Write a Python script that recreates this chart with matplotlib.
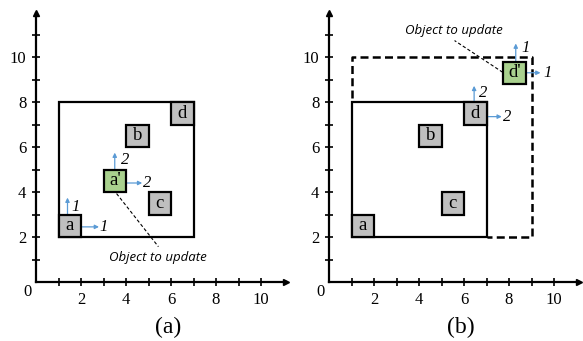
import matplotlib
matplotlib.use("Agg")
import matplotlib.pyplot as plt
from matplotlib.patches import Rectangle

# ---------------- data ----------------
major_ticks_x = [2, 4, 6, 8, 10]
minor_ticks_x = [1, 3, 5, 7, 9]
major_ticks_y = [2, 4, 6, 8, 10]
minor_ticks_y = [1, 3, 5, 7, 9, 11]

# panel (a)
boxes_a_labels = ['a', 'b', 'c', 'd', "a'"]
boxes_a_x = [1, 4, 5, 6, 3]
boxes_a_y = [2, 6, 3, 7, 4]
boxes_a_new = [False, False, False, False, True]
rect_a = [1, 2, 7, 8]  # x0, y0, x1, y1
arrows_a_start = [(1.4, 3), (2, 2.45), (3.5, 5), (4, 4.4)]
arrows_a_end = [(1.4, 3.75), (2.8, 2.45), (3.5, 5.75), (4.72, 4.4)]
arrows_a_labels = ['1', '1', '2', '2']
arrows_a_label_pos = [(1.78, 3.35), (3.0, 2.45), (3.95, 5.42), (4.95, 4.4)]
leader_a = [(3.58, 3.93), (5.44, 1.57)]
note_a_pos = (5.4, 1.07)

# panel (b)
boxes_b_labels = ['a', 'b', 'c', 'd', "d'"]
boxes_b_x = [1, 4, 5, 6, 7.75]
boxes_b_y = [2, 6, 3, 7, 8.8]
boxes_b_new = [False, False, False, False, True]
rect_b = [1, 2, 7, 8]
dashed_b_x = [1, 1, 9, 9, 7]
dashed_b_y = [8.2, 10, 10, 2, 2]
arrows_b_start = [(6.45, 8), (7, 7.35), (8.3, 9.8), (8.75, 9.3)]
arrows_b_end = [(6.45, 8.72), (7.68, 7.35), (8.3, 10.6), (9.4, 9.3)]
arrows_b_labels = ['2', '2', '1', '1']
arrows_b_label_pos = [(6.87, 8.42), (7.9, 7.35), (8.72, 10.42), (9.72, 9.3)]
leader_b = [(7.72, 9.32), (5.58, 10.73)]
note_b_pos = (5.53, 11.18)

note_text = "Object to update"
panel_labels = ['(a)', '(b)']

# ---------------- style ----------------
SERIF = 'Liberation Serif'
GRAY = '#bfbfbf'
GREEN = '#a9d18e'
BLUE = '#5b9bd5'

W, H = 583, 341
fig = plt.figure(figsize=(W / 100, H / 100), dpi=100)

scale = 22.5  # px per unit
xlim = (-36 / scale, (290 - 36) / scale)
ylim = ((282 - 341) / scale, 282 / scale)


def setup_axes(left_px):
    ax = fig.add_axes([left_px / W, 0, 290 / W, 1])
    ax.set_xlim(*xlim)
    ax.set_ylim(*ylim)
    for s in ['top', 'right']:
        ax.spines[s].set_visible(False)
    ax.spines['left'].set_position(('data', 0))
    ax.spines['bottom'].set_position(('data', 0))
    ax.spines['left'].set_bounds(0, 11.95)
    ax.spines['bottom'].set_bounds(0, 11.1)
    for s in ['left', 'bottom']:
        ax.spines[s].set_linewidth(1.6)
    ax.plot([11.1], [0], marker='>', color='black', markersize=5, clip_on=False)
    ax.plot([0], [11.95], marker='^', color='black', markersize=5, clip_on=False)
    ax.set_xticks(major_ticks_x)
    ax.set_xticks(minor_ticks_x, minor=True)
    ax.set_yticks(major_ticks_y)
    ax.set_yticks(minor_ticks_y, minor=True)
    ax.tick_params(which='both', direction='inout', length=6, width=1.2)
    ax.tick_params(axis='x', which='major', pad=4)
    ax.tick_params(axis='y', which='major', pad=4)
    for lab in ax.get_xticklabels() + ax.get_yticklabels():
        lab.set_fontfamily(SERIF)
        lab.set_fontsize(12)
    ax.text(-0.36, -0.46, '0', family=SERIF, fontsize=12, ha='center', va='center')
    ax.patch.set_visible(False)
    return ax


def draw_panel(ax, labels, xs, ys, new, starts, ends, alabels, alpos, leader, note_pos, plabel):
    for lab, x, y, n in zip(labels, xs, ys, new):
        ax.add_patch(Rectangle((x, y), 1, 1, facecolor=GREEN if n else GRAY,
                               edgecolor='black', linewidth=1.6, zorder=3))
        ax.text(x + 0.5, y + 0.5, lab, family=SERIF, fontsize=13.5,
                ha='center', va='center', zorder=4)
    for s, e, t, p in zip(starts, ends, alabels, alpos):
        ax.annotate('', xy=e, xytext=s,
                    arrowprops=dict(arrowstyle='-|>', color=BLUE, lw=0.9,
                                    mutation_scale=6, shrinkA=0, shrinkB=0),
                    zorder=2)
        ax.text(p[0], p[1], t, family=SERIF, style='italic', fontsize=12,
                ha='center', va='center')
    ax.plot([leader[0][0], leader[1][0]], [leader[0][1], leader[1][1]],
            color='black', lw=0.8, linestyle=(0, (3, 2)), zorder=5)
    ax.text(note_pos[0], note_pos[1], note_text, family='Open Sans', style='italic',
            fontsize=9.5, ha='center', va='center')
    ax.text(5.87, -2.04, plabel, family=SERIF, fontsize=17, ha='center', va='center')


ax_a = setup_axes(0)
ax_a.add_patch(Rectangle((rect_a[0], rect_a[1]), rect_a[2] - rect_a[0], rect_a[3] - rect_a[1],
                         fill=False, edgecolor='black', linewidth=1.6))
draw_panel(ax_a, boxes_a_labels, boxes_a_x, boxes_a_y, boxes_a_new,
           arrows_a_start, arrows_a_end, arrows_a_labels, arrows_a_label_pos,
           leader_a, note_a_pos, panel_labels[0])

ax_b = setup_axes(293)
ax_b.plot(dashed_b_x, dashed_b_y, color='black', lw=1.8, linestyle=(0, (3.2, 1.7)))
ax_b.add_patch(Rectangle((rect_b[0], rect_b[1]), rect_b[2] - rect_b[0], rect_b[3] - rect_b[1],
                         fill=False, edgecolor='black', linewidth=1.6))
draw_panel(ax_b, boxes_b_labels, boxes_b_x, boxes_b_y, boxes_b_new,
           arrows_b_start, arrows_b_end, arrows_b_labels, arrows_b_label_pos,
           leader_b, note_b_pos, panel_labels[1])

fig.savefig('out.png', dpi=100)
